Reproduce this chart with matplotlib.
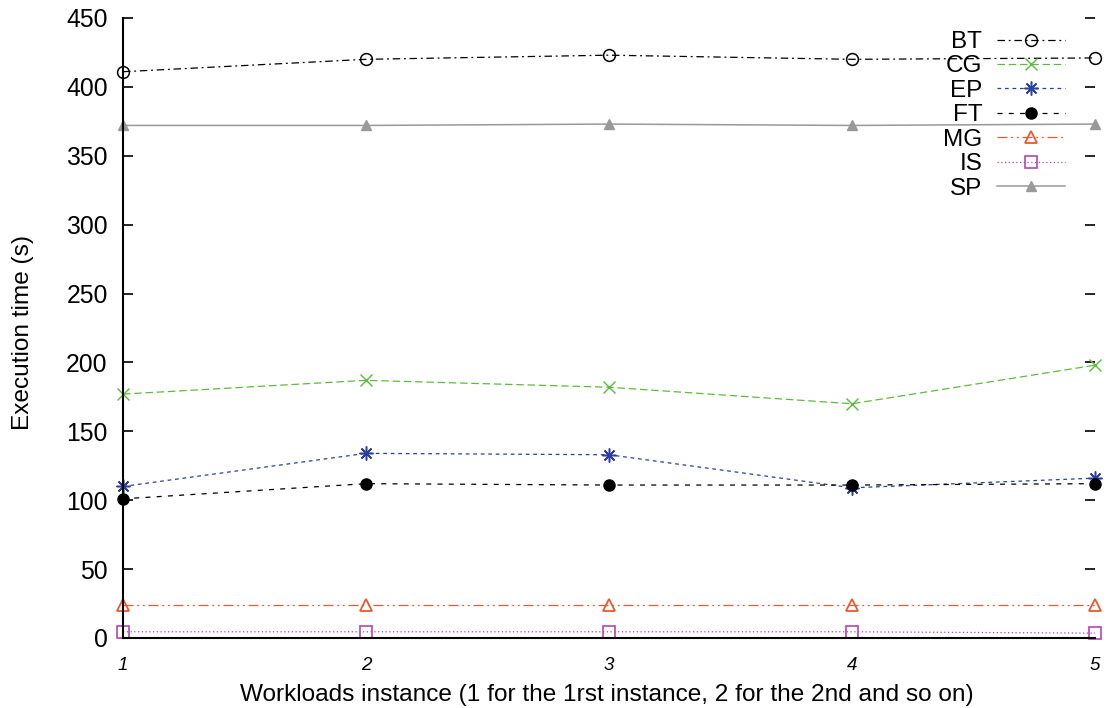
import matplotlib
matplotlib.use("Agg")
import matplotlib.pyplot as plt

plt.rcParams['font.family'] = ['Liberation Sans', 'DejaVu Sans']

instances = [1, 2, 3, 4, 5]
bt = [411, 420, 423, 420, 421]
cg = [177, 187, 182, 170, 198]
ep = [110, 134, 133, 109, 116]
ft = [101, 112, 111, 111, 112]
mg = [24, 24, 24, 24, 24]
is_ = [4.5, 4.5, 4.5, 4.5, 3.5]
sp = [372, 372, 373, 372, 373]
yticks = [0, 50, 100, 150, 200, 250, 300, 350, 400, 450]

fig = plt.figure(figsize=(11.12, 7.08), dpi=100)
ax = fig.add_axes([0.1106, 0.0989, 0.9847 - 0.1106, 0.9746 - 0.0989])

lw = 0.9
ax.plot(instances, bt, color='black', lw=lw, linestyle=(0, (6, 3, 1.5, 3)),
        marker='o', mfc='none', mec='black', ms=8.5, mew=1.1, label='BT', clip_on=False)
ax.plot(instances, cg, color='#5bbd3b', lw=lw, linestyle=(0, (6, 3)),
        marker='x', mec='#5bbd3b', ms=8.5, mew=1.0, label='CG', clip_on=False)
ax.plot(instances, ep, color='#2c3f9f', lw=lw, linestyle=(0, (3, 3)),
        marker=(8, 2, 0), mec='#2c3f9f', ms=10, mew=1.1, label='EP', clip_on=False)
ax.plot(instances, ft, color='black', lw=lw, linestyle=(0, (4, 5)),
        marker='o', mfc='black', mec='black', ms=8, label='FT', clip_on=False)
ax.plot(instances, mg, color='#ea5a2e', lw=lw, linestyle=(0, (8, 3, 1.5, 3, 1.5, 3)),
        marker='^', mfc='none', mec='#ea5a2e', ms=8, mew=1.3, label='MG', clip_on=False)
ax.plot(instances, is_, color='#b545b0', lw=lw, linestyle=(0, (1, 2)),
        marker='s', mfc='none', mec='#b545b0', ms=8.5, mew=1.2, label='IS', clip_on=False)
ax.plot(instances, sp, color='#999999', lw=1.1, linestyle='-',
        marker='^', mfc='#999999', mec='#999999', ms=7.5, label='SP', clip_on=False)

ax.set_xlim(1, 5)
ax.set_ylim(0, 450)
ax.set_xticks(instances)
ax.set_xticklabels([str(i) for i in instances], fontstyle='italic', fontsize=13.5)
ax.set_yticks(yticks)
ax.tick_params(axis='x', length=0, pad=14)
ax.tick_params(axis='y', direction='in', length=7, width=1.2, labelsize=17.8, pad=11,
               right=True, left=True)
for s in ['top', 'right']:
    ax.spines[s].set_visible(False)
ax.spines['left'].set_linewidth(1.5)
ax.spines['bottom'].set_linewidth(1.5)

ax.set_ylabel('Execution time (s)', fontsize=17.6, va='center')
ax.yaxis.set_label_coords(23 / 1112, 1 - 332 / 708, transform=fig.transFigure)
ax.set_xlabel('Workloads instance (1 for the 1rst instance, 2 for the 2nd and so on)',
              fontsize=17.6, va='center')
ax.xaxis.set_label_coords(607 / 1112, 1 - 695 / 708, transform=fig.transFigure)

leg = ax.legend(loc='upper right', bbox_to_anchor=(1065 / 1112, 1 - 31 / 708),
                bbox_transform=fig.transFigure, frameon=False, markerfirst=False,
                fontsize=17.5, handlelength=2.8, handletextpad=0.6,
                labelspacing=0.1, borderpad=0, borderaxespad=0)

fig.savefig('out.png', dpi=100)
